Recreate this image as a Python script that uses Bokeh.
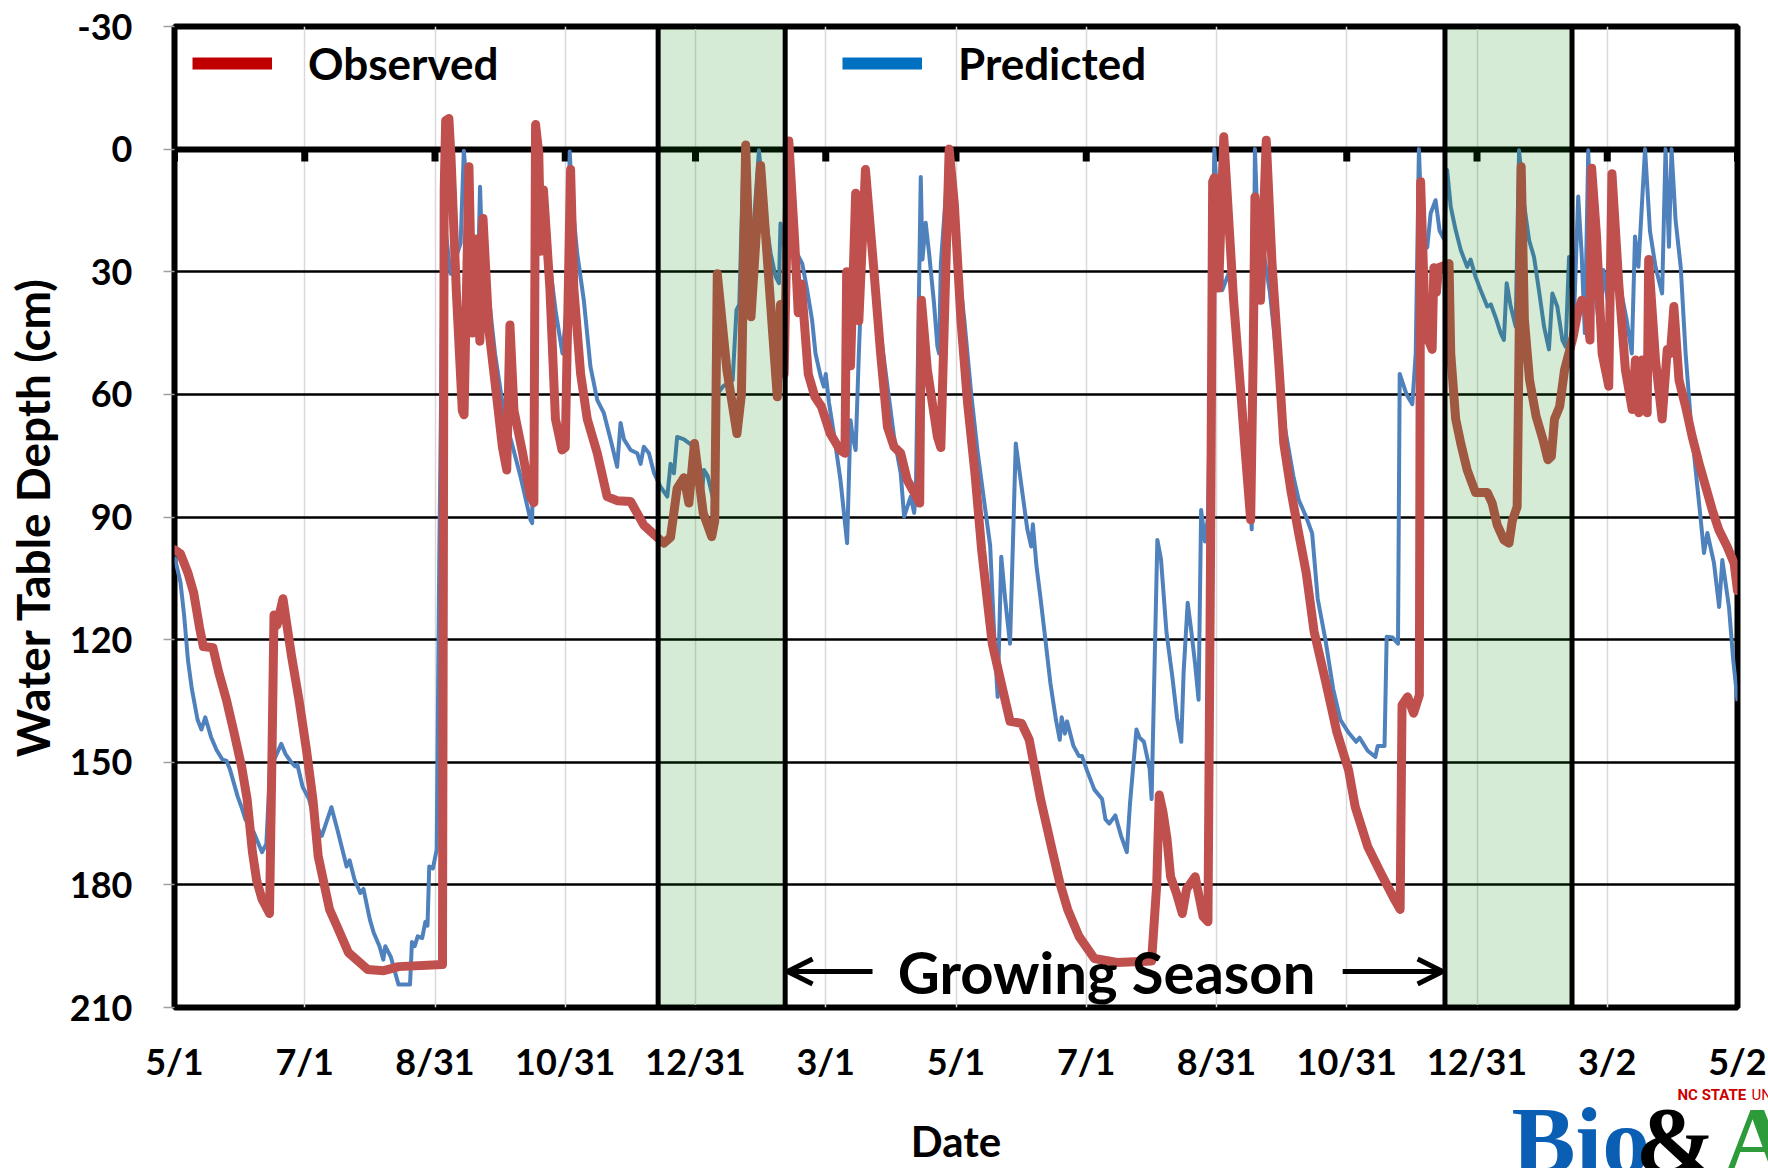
from bokeh.plotting import figure
from bokeh.models import (Range1d, FixedTicker, Legend, LegendItem, BoxAnnotation,
                          Label, Arrow, OpenHead, Title)
from bokeh.embed import file_html
from bokeh.resources import INLINE

# ---------------- data (days since 5/1, water table depth in cm) ----------------
x_ticks = [0, 61, 122, 183, 244, 305, 366, 427, 488, 549, 610, 671, 732]
x_labels = ["5/1", "7/1", "8/31", "10/31", "12/31", "3/1", "5/1", "7/1", "8/31",
            "10/31", "12/31", "3/2", "5/2"]
y_ticks = [-30, 0, 30, 60, 90, 120, 150, 180, 210]
y_labels = ["-30", "0", "30", "60", "90", "120", "150", "180", "210"]

# non-growing-season shading (days)
shade_start = [226.5, 595.0]
shade_end = [286.0, 654.5]

obs_day = [0, 2.8, 6.3, 9, 11.7, 13.5, 18, 20.7, 24.3, 27.9, 31.4, 34, 36.5, 38.5, 41, 44.5,
           45.6, 46.6, 48, 50.8, 52.5, 54.8, 58.3, 61.8, 64.8, 67.3, 72.6, 76, 81.5, 90.4,
           98, 105, 125.5, 126.3, 127, 128.5, 129.5, 132, 134.8, 135.6, 137.9, 139.5, 141.5,
           143, 144.5, 147.2, 151.2, 153.6, 155.6, 157.1, 159, 162.9, 166.7, 168.3, 169.1,
           170.6, 171.5, 172.8, 175.8, 178.4, 181.5, 183, 185.5, 187, 190.2, 193.3, 198,
           202.6, 207.3, 213.6, 219.8, 226.1, 229.2, 232.3, 235.4, 238.6, 240.9, 243.5,
           247.6, 251.6, 253, 254.2, 258.7, 263.4, 265.5, 267.5, 270, 274.5, 282.3, 283.8,
           285.5, 287.7, 290.5, 292.1, 293.6, 296.8, 299.9, 303, 307, 311.7, 314, 314.8,
           316.6, 319, 320.5, 323.6, 327.6, 330.7, 333.9, 337, 340.1, 343.2, 346.4, 349,
           349.8, 352.6, 357.3, 358.9, 362.8, 365.2, 368.3, 371.4, 375, 378, 381, 383, 386,
           391.3, 396.7, 400.3, 405.6, 411, 414.6, 418.3, 423.6, 430.8, 441.5, 457.6, 460,
           461.2, 463, 464.8, 466.5, 469.2, 472, 474, 478, 481.7, 484, 485.2, 486.2, 487,
           489, 491.4, 496, 499.6, 501.4, 504, 505.2, 506, 508.6, 511.3, 514, 517.5, 519.5,
           523, 526.5, 530, 533.7, 539, 544.4, 549.9, 553, 558.8, 565.8, 571.4, 574, 574.9,
           577.5, 580.3, 583, 583.6, 585.9, 589, 589.8, 591, 592, 596.9, 597.7, 600, 602.4,
           605.4, 609.3, 614.8, 617.1, 619.5, 622.6, 625, 626.5, 628.8, 630.7, 632.2, 634.6,
           637.7, 640.9, 643.2, 644.8, 646.3, 648.7, 651, 655, 657.4, 659, 661.3, 662.9,
           663.7, 666, 668.6, 671.7, 673.2, 676.4, 679.5, 682.7, 684.2, 685.8, 687.3, 689.7,
           690.4, 693.6, 696.7, 699.1, 700.6, 702.2, 704.6, 707.7, 710.8, 714, 717.1, 720.2,
           723.3, 727.2, 730.4, 732]
obs_val = [98, 99, 103.7, 108.6, 117, 121.7, 122, 128, 134.7, 142.8, 151, 159, 172, 179, 183.5,
           187, 150, 114, 116.5, 110, 116, 124, 134.7, 147, 159, 173, 186, 190, 196.6, 200.7,
           201, 200, 199.5, 10, -7, -7.5, 2, 35, 64, 65, 4.3, 45, 22, 47, 17, 44, 62, 73,
           78.5, 43, 64, 74, 85, 86.5, -6, 1, 25, 10, 34, 66, 73.6, 73, 5, 34, 55, 66, 74.4,
           85, 86, 86.2, 92, 95, 96.4, 95, 83, 80.4, 86.6, 72, 89, 94.8, 91, 30.5, 54, 69.6,
           60, -1, 41, 4, 60.6, 38, 55, -2, 23, 40, 33, 55, 60.6, 63, 69.5, 73.6, 74.4, 30,
           53, 10.8, 42, 5, 30, 50, 68, 72.8, 74.4, 81, 84, 86.6, 37, 54, 70.4, 73, 0, 13.3,
           41.8, 62, 80, 98, 112, 121, 128, 140, 140.5, 144.5, 159, 171.4, 179.5, 186, 192.6,
           198, 199, 198.6, 180, 158, 162.4, 168.7, 178, 182, 187, 181, 178, 187.7, 189, 100,
           8, 7, 34, -3, 37, 61, 73.6, 90.7, 50, 11.7, 37, -2.2, 28, 55, 72, 84, 94, 103.6,
           118, 130, 142.7, 152, 161, 170.6, 178, 183.6, 186, 136, 134, 138, 133.6, 8, 45,
           49, 29, 35, 29, 28, 50, 66, 72, 78.5, 84, 84, 86.6, 92, 95.6, 96.4, 91, 87.5, 4.3,
           41.8, 56.5, 65.4, 71.1, 76, 75.2, 66, 63, 54, 46, 39.4, 37, 38.5, 46.7, 4.7, 21.4,
           50, 58, 6, 33, 54, 63.7, 51.6, 64.5, 51.6, 64.5, 27, 51.6, 66, 49, 50, 38.5, 56.5,
           63, 70.4, 76.9, 82.6, 88.3, 93.2, 97.3, 101.3, 108]

pred_day = [0, 2.8, 4.5, 6.3, 8.1, 10.8, 12.6, 14.4, 17.1, 19.7, 22.5, 24.3, 26, 29.6, 31.4,
            33.2, 37, 41, 43, 44.8, 47, 50, 52, 54.7, 56.5, 57.5, 60, 63, 66, 69, 73.5, 76.3,
            80.6, 82, 84.3, 87, 88.5, 91.5, 93.3, 96, 97.8, 98.7, 101.3, 104.9, 110.3, 111.2,
            112.5, 113.9, 116, 117.5, 118.5, 119.3, 121, 122.8, 124, 125.5, 127, 129.3, 131.5,
            134, 135.5, 137.9, 140, 142.3, 143.1, 144.6, 147.7, 150.1, 152.4, 154.7, 158, 162,
            166.7, 167.5, 169.5, 171, 173.1, 175.5, 178.6, 181.7, 183.5, 185.1, 186.2, 188.6,
            191.7, 194.8, 198, 201.1, 204.2, 207.3, 208.9, 210.5, 213.6, 216.7, 218.3, 219.8,
            222.2, 224.6, 227.6, 230.8, 232.3, 233.9, 235.4, 238.6, 243.2, 246.4, 247.2, 248,
            249.7, 252, 254, 257, 261.4, 263.2, 264.5, 266.5, 268.5, 271, 273.7, 276, 277.6,
            279.2, 281.5, 283.1, 283.8, 286, 288, 291, 294, 296.3, 298.6, 300.2, 302.6, 304.1,
            305, 306.5, 308.8, 311.9, 315, 316.6, 317.5, 319, 320.5, 323.6, 327.6, 330.7,
            333.9, 337, 340.1, 341.7, 344.8, 346.4, 347.2, 349.5, 350.3, 351.8, 353.4, 355.7,
            357.3, 358.1, 358.9, 362.8, 366.8, 369.9, 373.1, 376.2, 379.3, 382, 384, 385.5,
            387.2, 389, 391.3, 394, 396.7, 399.4, 401.2, 402, 403.7, 405.5, 407.5, 410.2,
            412.8, 414.6, 415.5, 417, 418, 421, 423.6, 425, 427.2, 430.8, 434.4, 436, 437.8,
            440.6, 443.3, 446, 447.5, 450.5, 452, 454, 456.7, 457.6, 460.3, 462, 464.6, 467.3,
            469.5, 471.5, 472.6, 474.5, 476.3, 478, 479.6, 480.8, 482.6, 484, 487, 490.7, 494,
            497, 500, 503, 504.5, 506, 508, 510, 513, 516, 520, 524, 526.5, 530, 532.8, 535.4,
            539, 542.6, 546, 549.9, 553.4, 555, 558.8, 562.4, 563.5, 566.7, 567.7, 570.5, 573,
            573.8, 577, 579.7, 581.3, 582.8, 584.5, 586.7, 588.3, 590.6, 592.5, 594.5, 596,
            597.7, 600, 602.4, 605.4, 607, 609.3, 611.7, 614.8, 616.5, 618.6, 621.1, 622.6,
            623.9, 625.8, 628.1, 629.7, 632, 634.4, 636.7, 639, 641.4, 643.7, 645.3, 647.6, 650,
            651.5, 653.1, 655.5, 657.4, 659, 660.5, 662.1, 663.7, 666, 667.5, 669.2, 671.5,
            673.9, 677, 680.1, 682.5, 684, 685.6, 688.7, 691, 693.6, 696.7, 698.3, 699.9, 701.1,
            703, 705.4, 707.7, 710.1, 712.4, 714.8, 716.3, 717.9, 721, 723.4, 724.9, 728, 730,
            732]
pred_val = [99.7, 106, 114, 125, 132, 139.6, 142, 139, 143.8, 147, 149.4, 149.6, 151.8, 158.4,
            161, 164, 167, 172, 170, 151, 149, 145.5, 148, 150, 151, 150.5, 156, 159, 165, 168,
            161, 166.5, 175.5, 174, 178.7, 182, 181, 188.5, 191.7, 195, 198.3, 195, 197.6,
            204.4, 204.4, 194, 195, 192.6, 193, 189, 190, 175.5, 176, 171.4, 100, 30, 20, 30.5,
            27, 23, 0.4, 15.7, 30, 27, 9.2, 33.6, 38.5, 50, 58, 66, 72, 80, 90.7, 91.5, 0.4, 3,
            17.4, 27, 40, 50, 40, 0.6, 12.5, 25.5, 37, 53.2, 61.4, 64.6, 71, 77.7, 67, 71, 73.6,
            74.4, 77, 72.8, 74.4, 79.3, 82.6, 85, 77, 79.3, 70.4, 71, 72.8, 78.5, 83, 78.5, 80,
            85, 60, 58, 56.5, 39.4, 38, 2, 20, 20.5, 0.3, 13.3, 19.8, 25.5, 31.2, 32.8, 18.2,
            25, 15, 25, 28, 34.5, 41.8, 50, 55.6, 58.1, 55, 62, 69.6, 81, 96.4, 66.3, 70, 73.6,
            50, 8, 29.6, 45, 58, 70.4, 79.3, 89.9, 85, 89, 84, 6.8, 27, 18, 25.5, 37.7, 48.3,
            50, 28, -0.1, 27, 41.8, 59.8, 74.4, 86.6, 97, 120, 134, 99.7, 110, 121, 72, 82.6,
            93, 97.2, 91.8, 102, 109.5, 118.4, 130.6, 139.6, 144.5, 139, 143, 140, 146, 148.5,
            148.5, 151.8, 156.7, 159, 164, 165, 163, 168, 172, 160, 142, 144, 145, 151.6, 159,
            95.6, 100.3, 118.4, 129, 139, 145, 128, 111, 118.4, 126, 134.7, 88.3, 96, 90, 0,
            34.5, 30, 45, 62, 80, 93, 0, 30, 25, 35, 50, 68, 80, 85.8, 90, 94, 110, 120, 132,
            139.6, 142.8, 145, 144, 147.2, 148.7, 146, 146, 119.3, 119.5, 121, 55, 60, 62.4, 50,
            0, 25, 24, 15.7, 12.5, 20, 22, 5.1, 14.1, 19.8, 24.7, 28.8, 27, 31.2, 34.5, 38.5,
            38, 41, 45, 46.7, 32.8, 38.5, 43.4, 0.3, 13.3, 22.3, 26.4, 34.5, 43.4, 49, 35.3,
            38.5, 46.7, 48.3, 26.4, 40, 11.6, 25.5, 45, 0.3, 25.5, 37.7, 45, 29.6, 38, 27.1,
            33.6, 41.8, 50, 21.4, 28.8, 0, 20, 28.8, 35.3, 0, 23.9, 0, 17.4, 28.8, 50, 66.3,
            78.5, 90.7, 98.8, 93.9, 101.3, 112, 100.5, 112, 125, 135]

FONT = "Lato"

p = figure(width=1768, height=1168, output_backend="svg", toolbar_location=None,
           title=None, x_range=Range1d(0, 732), y_range=Range1d(210, -30),
           min_border_left=174, min_border_right=31, min_border_top=26,
           min_border_bottom=160)
p.background_fill_color = "white"
p.border_fill_color = "white"
p.outline_line_color = "black"
p.outline_line_width = 6

# axes
p.xaxis.ticker = FixedTicker(ticks=x_ticks)
p.xaxis.major_label_overrides = {t: l for t, l in zip(x_ticks, x_labels)}
p.xaxis.major_tick_line_color = None
p.xaxis.minor_tick_line_color = None
p.xaxis.axis_line_color = None
p.xaxis.major_label_standoff = 25
p.xaxis.axis_label = "Date"
p.xaxis.axis_label_standoff = 30
p.xaxis.axis_label_text_font = FONT
p.xaxis.axis_label_text_font_style = "bold"
p.xaxis.axis_label_text_font_size = "42px"
p.xaxis.axis_label_text_color = "black"

p.yaxis.ticker = FixedTicker(ticks=y_ticks)
p.yaxis.major_label_overrides = {t: l for t, l in zip(y_ticks, y_labels)}
p.yaxis.major_tick_in = 0
p.yaxis.major_tick_out = 11
p.yaxis.major_tick_line_color = "#A0A0A0"
p.yaxis.major_tick_line_width = 1.5
p.yaxis.minor_tick_line_color = None
p.yaxis.axis_line_color = None
p.yaxis.major_label_standoff = 31
p.yaxis.axis_label = "Water Table Depth (cm)"
p.yaxis.axis_label_standoff = 7
p.yaxis.axis_label_text_font = FONT
p.yaxis.axis_label_text_font_style = "bold"
p.yaxis.axis_label_text_font_size = "46px"
p.yaxis.axis_label_text_color = "black"

for ax in (p.xaxis, p.yaxis):
    ax.major_label_text_font = FONT
    ax.major_label_text_font_style = "bold"
    ax.major_label_text_font_size = "36px"
    ax.major_label_text_color = "black"

# grids
p.xgrid.ticker = FixedTicker(ticks=x_ticks)
p.xgrid.grid_line_color = "#D9D9D9"
p.xgrid.grid_line_width = 1.5
p.ygrid.ticker = FixedTicker(ticks=y_ticks)
p.ygrid.grid_line_color = "black"
p.ygrid.grid_line_width = 2.5

# zero line and its tick marks
p.hspan(y=[0], line_color="black", line_width=6)
p.segment(x0=x_ticks, y0=[0] * len(x_ticks), x1=x_ticks, y1=[3] * len(x_ticks),
          line_color="black", line_width=7)

# series
p.line(pred_day, pred_val, line_color="#4F81BD", line_width=4, line_join="round")
p.line(obs_day, obs_val, line_color="#C0504D", line_width=9, line_join="round",
       line_cap="round")

# shaded boxes
for a, b in zip(shade_start, shade_end):
    p.add_layout(BoxAnnotation(left=a, right=b, fill_color="#008000", fill_alpha=0.16,
                               line_color=None))
for a, b in zip(shade_start, shade_end):
    p.add_layout(BoxAnnotation(left=a, right=b, fill_alpha=0, line_color="black",
                               line_width=5, line_alpha=1))

# legend (two separate single-item legends); the swatch renderers sit outside the ranges
r_obs = p.line([-50, -40], [-100, -100], line_color="#C00000", line_width=12,
               line_cap="butt")
r_pred = p.line([-50, -40], [-100, -100], line_color="#0070C0", line_width=12,
                line_cap="butt")
for r, lab, loc in ((r_obs, "Observed", (18, 918)), (r_pred, "Predicted", (668, 918))):
    leg = Legend(items=[LegendItem(label=lab, renderers=[r])], location=loc,
                 orientation="horizontal", glyph_width=80, glyph_height=44,
                 label_height=44, label_standoff=36, padding=0, margin=0, spacing=0,
                 border_line_color=None, background_fill_alpha=0,
                 label_text_font=FONT, label_text_font_style="bold",
                 label_text_font_size="44px", label_text_color="black")
    p.add_layout(leg)

# growing season annotation
p.add_layout(Label(x=436.5, y=201.3, text="Growing Season", text_align="center",
                   text_baseline="middle", text_font=FONT, text_font_style="bold",
                   text_font_size="58px", text_color="black"))
p.add_layout(Arrow(end=OpenHead(size=25, line_width=5, line_color="black"),
                   x_start=326.9, y_start=201.2, x_end=287.1, y_end=201.2,
                   line_width=5, line_color="black"))
p.add_layout(Arrow(end=OpenHead(size=25, line_width=5, line_color="black"),
                   x_start=547.1, y_start=201.2, x_end=593.9, y_end=201.2,
                   line_width=5, line_color="black"))

# logo (bottom-right corner, partly outside the page like in the source slide)
logo = [
    ("Bio", 1337, -164, "Liberation Serif", "bold", "96px", "#0A5FB4"),
    ("&", 1461, -164, "Liberation Serif", "bold", "96px", "black"),
    ("Ag", 1548, -164, "Liberation Serif", "bold", "96px", "#2E9B3A"),
    ("NC STATE", 1503, -166, "Roboto", "bold", "15px", "#CC0000"),
    ("UNIVERSITY", 1577, -166, "Roboto", "normal", "15px", "#CC0000"),
]
for txt, off, st, fnt, sty, fsz, col in logo:
    p.add_layout(Title(text=txt, align="left", offset=off, standoff=st,
                       vertical_align="top", text_font=fnt, text_font_style=sty,
                       text_font_size=fsz, text_color=col), "below")

open("out.html", "w").write(file_html(p, INLINE))
